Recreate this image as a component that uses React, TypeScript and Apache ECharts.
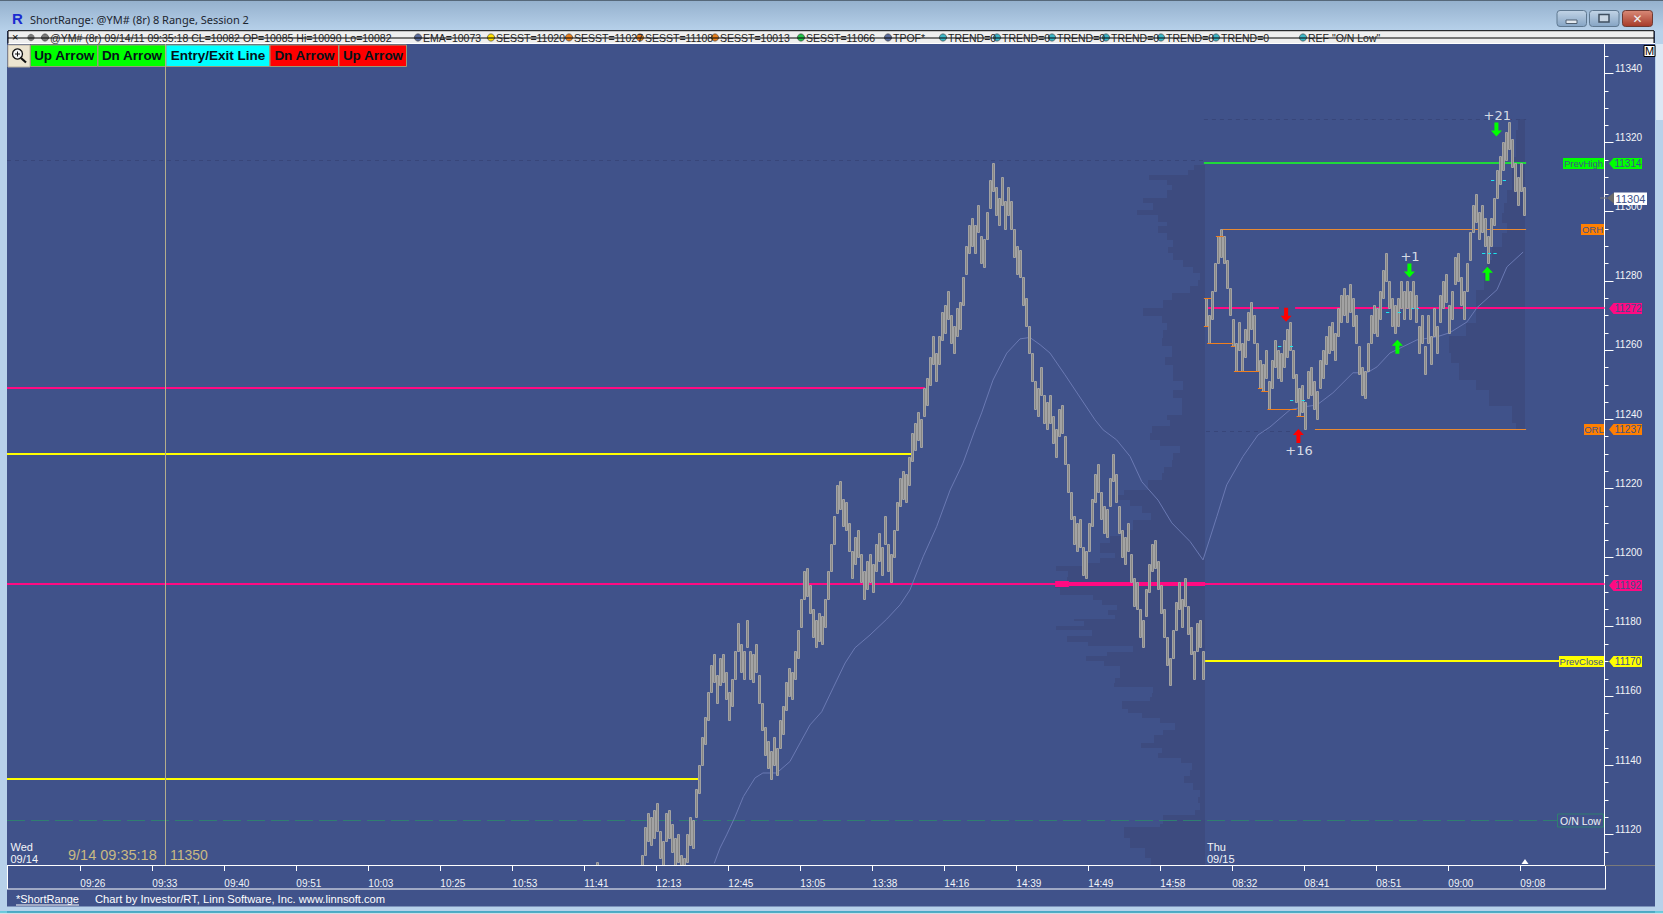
import React, { useEffect, useRef } from "react";
import * as echarts from "echarts";

// ---- time axis
const xTickLabels = ["09:26","09:33","09:40","09:51","10:03","10:25","10:53","11:41","12:13","12:45","13:05","13:38","14:16","14:39","14:49","14:58","08:32","08:41","08:51","09:00","09:08"];
const yMajor = [11120,11140,11160,11180,11200,11220,11240,11260,11280,11300,11320,11340];
const yMinor = [11115,11125,11130,11135,11145,11150,11155,11165,11170,11175,11185,11190,11195,11205,11210,11215,11225,11230,11235,11245,11250,11255,11265,11270,11275,11285,11290,11295,11305,11310,11315,11325,11330,11335,11345];

// ---- 8-range bars: each bar's high, bar index = firstBar + position
const isolatedBar = 196;
const isolatedHigh = 11112;
const firstBar = 211;
const barHighs = [
11114,11122,11126,11125,11127,11129,11121,11118,11126,11127,11123,11119,11120,11114,11113,11120,11125,11124,
11133,11140,11148,11154,11161,11169,11172,11166,11171,11172,11167,11161,11165,11173,11181,11175,11173,11182,11173,11172,11175,11166,11158,11151,11147,11144,11148,11145,11153,11157,11164,11168,11167,11173,11179,11188,11196,11197,11192,11185,11182,11184,11183,11188,11196,
11204,11212,11221,11222,11217,11216,11210,11202,11206,11208,11201,11196,11199,11201,11198,11204,11207,11203,11212,11204,11201,11208,11216,11223,11225,11224,11229,11236,
11239,11242,11240,11249,11252,11258,11264,11259,11264,11271,11273,11277,11270,11267,11272,11274,11281,11290,11296,11298,11296,11302,11293,11292,11300,11309,11314,11307,11304,11310,11303,11307,11303,11295,11290,11289,11281,11275,11267,11259,11251,11249,11255,11247,11245,11247,
11241,11237,11243,11244,11235,11227,11219,11212,11210,11211,11203,11202,11210,11217,11224,11227,11219,11215,11214,11223,11230,11224,11215,11208,11206,11210,11201,11194,11193,11185,11182,11191,11198,11204,11205,11199,11192,11185,11177,11171,11179,11187,11193,11188,11194,11186,11180,11173,11181,11182,11173,
11275,11270,11277,11285,11293,11295,11293,11286,11278,11269,11262,11268,11262,11266,11271,11274,11270,11262,11257,11256,11260,11251,11257,11263,11260,11259,11263,11266,11268,11260,11253,11249,11250,11245,11254,11255,11251,11248,11257,11260,11264,11267,11268,11265,11272,11276,11278,11276,11279,11275,11270,11261,11255,11254,11262,11270,11273,11272,11277,11283,11288,11280,11275,11273,11275,11280,11277,11280,11277,11280,11276,11267,11270,11261,11270,11264,11272,11267,11276,11280,11282,11273,11277,11287,11288,11281,11277,11285,11294,11302,11305,11300,11302,11298,11293,11298,11304,11312,11316,11320,11323,11326,11321,11314,11310,11314,11307
];
const barRange = 8;

// ---- EMA
const emaBars = [235.1,237,239.2,242,244.8,248.7,251.3,255.9,260.3,263.7,267,270.9,274.7,278.7,282,287,292.6,297,300.3,304.7,309.2,313.7,318,322,324.2,328,332.6,337,340.3,343.7,347,352,362,364.7,369.2,373.7,377.6,383,387.6,393.7,398,402.6,405.9,411.3,416.3,420.3,427,431.3,436,441.3,448,452.7,456,460.3,466,469.3,476,480.3,486,489.3,496,499.3,504.7];
const emaPrices = [11111.6,11116,11119.8,11125,11130.9,11136.3,11137.7,11137.7,11141,11146.4,11151.6,11155.4,11162.3,11169.5,11173.9,11177.6,11182.2,11186.3,11190.6,11200.2,11208.9,11219.5,11227.3,11236.9,11241.8,11251.3,11259.1,11263.2,11263.6,11261.5,11259.1,11252.8,11239.8,11236.9,11234,11229.2,11221.9,11216.6,11210,11204.6,11199.3,11211.8,11221,11229.2,11235.4,11237.7,11242.7,11243.5,11244.1,11247.6,11253.4,11253.4,11255.1,11259.1,11261.5,11262.9,11263.8,11265,11268.1,11272.2,11277.4,11284,11288.3];

// ---- volume profiles: upper price of each row, and width in bars
const profile1Anchor = 398.67;
const profile1Tops = [11313.5,11312,11310.6,11309.2,11307.7,11306.3,11303.9,11302.4,11300.5,11299,11297.1,11295.7,11293.8,11291.8,11289.9,11288,11286.1,11284.1,11282.2,11280.3,11278.4,11276.4,11274.5,11272.2,11269.7,11267.8,11265.8,11263.4,11261,11258.1,11255.7,11253.3,11250.9,11248.5,11246.1,11243.7,11241.3,11239.8,11237.9,11235.9,11234,11232.1,11230.2,11228.2,11226.3,11224.4,11222.5,11219.6,11218.1,11216.7,11214.8,11212.8,11210.9,11208,11206.1,11204.2,11201.3,11199.8,11198.4,11197.4,11196,11194.5,11193.1,11191.1,11189.2,11187.8,11186.3,11184.9,11183.4,11182.3,11181.5,11180.3,11179.1,11177.4,11175.7,11174.3,11172.8,11171.4,11170,11168.5,11166.6,11165.1,11163.7,11162.7,11160.8,11159.8,11158.4,11156.2,11155,11153.6,11152.1,11150.2,11148.8,11146.4,11144.9,11143.5,11142,11140.6,11138.6,11136.7,11134.8,11132.9,11130.9,11129,11127,11125.6,11123,11122,11119,11116,11113,11111];
const profile1Widths = [3.7,5.6,18.7,12.8,11.1,12.8,20.6,17.2,22.8,15.6,12.8,15.6,12.8,10.6,12.2,10.6,7.2,3.9,1.7,2.2,5,11.1,13.9,20.6,14.4,12.8,13.9,14.4,11.1,13.3,10.6,10.6,7.2,10.6,7.8,7.8,12.8,11.7,17.8,18.3,15,8.3,10.6,11.1,13.7,14.4,19.1,27,28.9,25,21.1,18,23.9,27.2,31.7,35,30,35,38.9,49.7,45.6,46.1,50,48.3,37.2,34.4,29.4,32.2,30,43.7,40.3,49.7,37.8,46.1,38.9,23.9,32.8,39.7,33.7,28.3,28.3,30,30.3,17.2,17.8,18.3,27.6,25.6,21.1,15,10,13.9,16.9,21.3,14.4,15.6,8.1,4.4,5,7,3.9,1.7,2.2,1.7,3.3,13.9,15,27,25,20,18,15];
const profile2Anchor = 505.33;
const profile2Tops = [11326.8,11323.6,11315.9,11310.2,11306.3,11302.4,11299.6,11296.7,11293.8,11289.9,11286.1,11282.2,11277.4,11273.5,11267.8,11263.9,11259.1,11256.2,11251.4,11248.5,11243.7,11238.9,11237.1];
const profile2Widths = [2.2,3.1,4.4,4.2,5.9,7,7.8,5.9,7.6,10.9,12.6,13.7,16.4,16.4,19.8,25.3,24.8,22,16.4,12,4.2,3.1,0];

// ---- levels: start bar, end bar, price, width, colour, dash
const axisLeft = -0.67;
const axisRight = 531.83;
const levelStarts = [axisLeft,axisLeft,axisLeft,axisLeft,348.7,353.3,399.3,428.7,398.7,398.3,404.3,435.3,398.3,axisLeft,399,axisLeft];
const levelEnds = [305.3,300.7,229.7,axisRight,353.3,398.7,423.3,axisRight,516.7,505.7,505.7,505.7,505.7,398.3,428,516];
const levelPrices = [11249,11230,11136,11192.2,11192.2,11192.2,11272,11272,11170,11314,11295,11237,11326.8,11315,11236.5,11124];
const levelWidths = [2,2,2,2,6,4,2,2,2,2,1,1,1,1,1,1];
const levelColors = ["#ff0a82","#ffff00","#ffff00","#ff0a82","#ff0a82","#ff0a82","#ff0a82","#ff0a82","#ffff00","#1fd83a","#e98a32","#e98a32","#38467a","#38467a","#38467a","#2f7f70"];
const levelDashes = [null,null,null,null,null,null,null,null,null,null,null,null,[4,4],[4,4],[4,4],[18,6]];

// ---- short orange marks and cyan dashes
const orangeStarts = [398.3,398.3,399.4,407.3,408.3,416.3,417.4,419.5,429.2,402.3];
const orangeEnds = [400.7,399.8,407.9,408.7,416.8,417.7,419.8,429.2,431.7,404.8];
const orangePrices = [11275,11266.9,11262,11261.1,11253.9,11249,11248.1,11242.9,11240.9,11293];
const cyanStarts = [423,427,427,430.9,459,462.9,467.5,469.2,491,493,494.8,494,497.9];
const cyanEnds = [424.1,428,428.1,432,460.1,464,468.3,470,492.1,494,495.9,495.1,499];
const cyanPrices = [11261.1,11261.1,11245.5,11245.5,11271,11271,11272.1,11272.1,11288,11288,11288,11309.2,11309.2];

// ---- arrows and their notes
const arrowBars = [425.7,429.8,495.8,466.8,462.8,492.8];
const arrowPrices = [11270.2,11235.1,11323.7,11283,11260.9,11282];
const arrowDown = [true,false,true,true,false,false];
const arrowColors = ["#ff0000","#ff0000","#00ff00","#00ff00","#00ff00","#00ff00"];
const noteBars = [496.1,467,430];
const notePrices = [11327.7,11287,11230.8];
const noteTexts = ["+21","+1","+16"];

// ---- right side labels
const tagValues = [11314,11272,11237,11192,11170];
const tagColors = ["#00ff00","#ff0a82","#ff7f00","#ff0a82","#ffff00"];
const nameTexts = ["PrevHigh","ORH","ORL","PrevClose"];
const nameValues = [11314,11295,11237,11170];
const nameColors = ["#00ff00","#ff7f00","#ff7f00","#ffff00"];
const nameLefts = [1563,1581,1584,1559];
const lastPrice = 11304;

const buttonTexts = ["Up Arrow","Dn Arrow","Entry/Exit Line","Dn Arrow","Up Arrow"];
const buttonColors = ["#00ff00","#00ff00","#00ffff","#ff0000","#ff0000"];
const buttonEdges = [30.5,98,166,270,339,407];

const legendTexts = ["@YM# (8r) 09/14/11 09:35:18 CL=10082 OP=10085 Hi=10090 Lo=10082","EMA=10073","SESST=11020","SESST=11027","SESST=11108","SESST=10013","SESST=11066","TPOF*","TREND=0","TREND=0","TREND=0","TREND=0","TREND=0","TREND=0","REF \"O/N Low\""];
const legendLefts = [50,423,496,574,645,720,806,893,948,1002,1057,1111,1166,1221,1308];
const legendDots = ["#7a7a7a","#5b6d9e","#ffe000","#e9801f","#e9801f","#e9801f","#22c34a","#5b6d9e","#3cb6c6","#3cb6c6","#3cb6c6","#3cb6c6","#3cb6c6","#3cb6c6","#3cb6c6"];

const BG = "#40528a";
const DARK = "#3d4b7f";
const SANS = "'Liberation Sans',sans-serif";

const upArrow = "path://M5.5 0L11 6L7.5 6L7.5 14L3.5 14L3.5 6L0 6Z";

function segmentSeries(name: string, starts: number[], ends: number[], prices: number[], widthOf: (i: number) => number, colorOf: (i: number) => string, dashOf: (i: number) => any, z: number) {
  return {
    type: "custom", name, z, silent: true, clip: true,
    encode: { x: [0, 1], y: 2 },
    data: starts.map((s, i) => [s, ends[i], prices[i]]),
    renderItem: (params: any, api: any) => {
      const a = api.coord([api.value(0), api.value(2)]);
      const b = api.coord([api.value(1), api.value(2)]);
      const w = widthOf(params.dataIndex);
      const y = Math.round(a[1]) + (w % 2 === 1 ? 0.5 : 0);
      return { type: "line", silent: true,
        shape: { x1: a[0], y1: y, x2: b[0], y2: y },
        style: { stroke: colorOf(params.dataIndex), lineWidth: w, lineDash: dashOf(params.dataIndex) || undefined } };
    },
  };
}

function profileSeries(name: string, anchor: number, tops: number[], widths: number[]) {
  return {
    type: "custom", name, z: 1, silent: true, clip: true,
    encode: { x: [0, 1], y: [2, 3] },
    data: tops.slice(0, -1).map((t, i) => [anchor - widths[i], anchor, t, tops[i + 1]]),
    renderItem: (_: any, api: any) => {
      const a = api.coord([api.value(0), api.value(2)]);
      const b = api.coord([api.value(1), api.value(3)]);
      const x = Math.round(a[0]), y = Math.round(a[1]);
      return { type: "rect", silent: true,
        shape: { x, y, width: Math.round(b[0]) - x, height: Math.max(1, Math.round(b[1]) - y) },
        style: { fill: DARK } };
    },
  };
}

function txt(x: number, y: number, text: string, font: string, fill: string, extra: any = {}) {
  return { type: "text", x, y, z: 20, silent: true,
    style: { text, font, fill, textAlign: extra.align || "left", textVerticalAlign: "middle", align: extra.align || "left", verticalAlign: "middle" } };
}
function box(x: number, y: number, width: number, height: number, fill: any, extra: any = {}) {
  return { type: "rect", z: extra.z ?? 15, silent: true, shape: { x, y, width, height, r: extra.r || 0 }, style: { fill, stroke: extra.stroke, lineWidth: extra.lw ?? (extra.stroke ? 1 : 0) } };
}
function ln(x1: number, y1: number, x2: number, y2: number, stroke: string, lw = 1) {
  return { type: "line", z: 16, silent: true, shape: { x1, y1, x2, y2 }, style: { stroke, lineWidth: lw } };
}
const vgrad = (a: string, b: string) => new echarts.graphic.LinearGradient(0, 0, 0, 1, [{ offset: 0, color: a }, { offset: 1, color: b }]);

function chrome(): any[] {
  const e: any[] = [];
  // frame
  e.push(box(0, 0, 1663, 31, vgrad("#94b0cd", "#b7d1ea")));
  e.push(ln(0, 0.5, 1663, 0.5, "#56687a"));
  e.push(box(0, 31, 7, 883, "#b7d1ea"));
  e.push(box(1655, 31, 8, 883, "#b7d1ea"));
  e.push(box(1656, 44, 7, 76, "#dbe8f5"));
  e.push(box(0, 906.5, 1663, 5, "#b7d1ea"));
  e.push(ln(0, 912, 1663, 912, "#18c0d0", 1));
  e.push(box(0, 912.5, 1663, 2, "#d5dde6"));
  // title
  e.push(txt(12, 18, "R", "bold 15px " + SANS, "#1a2bd0"));
  e.push(txt(30, 19, "ShortRange: @YM# (8r) 8 Range, Session 2", "11px 'Noto Sans',sans-serif", "#1c2530"));
  // window buttons
  e.push(box(1557, 10.5, 29.5, 16, vgrad("#c2d4e6", "#85a4c4"), { stroke: "#5f7890", r: 3 }));
  e.push(box(1566, 20, 11, 3.5, "#e3e9ef", { stroke: "#4f5f70" }));
  e.push(box(1589.5, 10.5, 29.5, 16, vgrad("#c2d4e6", "#85a4c4"), { stroke: "#5f7890", r: 3 }));
  e.push(box(1599, 14.5, 10, 7.5, "#c9d6e3", { stroke: "#3f4f60", lw: 1.5 }));
  e.push(box(1622.5, 10.5, 30, 16, vgrad("#d98a78", "#a63a28"), { stroke: "#6d3a33", r: 3 }));
  e.push(txt(1637.5, 18.5, "✕", "bold 12px 'DejaVu Sans',sans-serif", "#eef0f2", { align: "center" }));
  // legend row
  e.push(box(8, 30.5, 1646, 13, "#efefef"));
  e.push(ln(8, 30.7, 1654, 30.7, "#000"));
  e.push(ln(8, 43.5, 1655, 43.5, "#ffffff"));
  e.push(ln(8, 43.5, 8, 31, "#000"));
  e.push(ln(1654, 31, 1654, 43, "#000"));
  legendTexts.forEach((t, i) => {
    e.push(txt(legendLefts[i], 38, t, "10.5px " + SANS, "#222"));
    e.push({ type: "circle", z: 16, silent: true, shape: { cx: legendLefts[i] - 5, cy: 37.5, r: 3.6 }, style: { fill: legendDots[i], stroke: "#333", lineWidth: 0.6 } });
  });
  e.push({ type: "circle", z: 16, silent: true, shape: { cx: 31, cy: 37.5, r: 3.6 }, style: { fill: "#7a7a7a" } });
  e.push(ln(8, 38, 1654, 38, "#000"));
  e.push(txt(12, 37, "×", "11px " + SANS, "#000"));
  // tool buttons
  e.push(box(8, 45, 22, 22, "#ece4d0", { stroke: "#b9b29f" }));
  e.push({ type: "circle", z: 16, silent: true, shape: { cx: 17.5, cy: 54, r: 5 }, style: { fill: "#f6f6f6", stroke: "#111", lineWidth: 1.3 } });
  e.push(ln(21, 58, 26, 62.5, "#111", 2.2));
  e.push(ln(15, 54, 20, 54, "#111", 1));
  e.push(ln(17.5, 51.5, 17.5, 56.5, "#111", 1));
  buttonTexts.forEach((t, i) => {
    const x = buttonEdges[i], w = buttonEdges[i + 1] - x;
    e.push(box(x, 45, w - 0.5, 21.5, buttonColors[i], { stroke: "#9a9a78" }));
    e.push(txt(x + w / 2, 55.5, t, "bold 13.5px " + SANS, "#04131a", { align: "center" }));
  });
  // M button
  e.push(box(1644, 45.5, 11, 11, "#ffffff", { stroke: "#000" }));
  e.push(txt(1649.5, 51, "M", "11px " + SANS, "#000", { align: "center" }));
  // crosshair
  e.push(ln(165.5, 44, 165.5, 865, "#b3ad8c"));
  // plot texts
  e.push(txt(10.5, 847, "Wed", "11px " + SANS, "#f2f4f8"));
  e.push(txt(10.5, 858.5, "09/14", "11px " + SANS, "#f2f4f8"));
  e.push(txt(1207, 847, "Thu", "11px " + SANS, "#f2f4f8"));
  e.push(txt(1207, 858.5, "09/15", "11px " + SANS, "#f2f4f8"));
  e.push(txt(68, 855, "9/14 09:35:18", "14.5px " + SANS, "#c9b982"));
  e.push(txt(170, 855, "11350", "14px " + SANS, "#c9b982"));
  // bottom boxes
  e.push(ln(7.5, 865, 7.5, 889, "#ffffff"));
  e.push(ln(1605.5, 865, 1605.5, 889, "#ffffff"));
  e.push(ln(7, 889, 1606, 889, "#ffffff"));
  e.push(ln(7, 865.5, 1605, 865.5, "#ffffff"));
  e.push(ln(1605, 865.5, 1655, 865.5, "#7a7a7a"));
  e.push({ type: "polygon", z: 16, silent: true, shape: { points: [[1525, 859], [1521.5, 864], [1528.5, 864]] }, style: { fill: "#ffffff" } });
  e.push(txt(16, 899, "*ShortRange", "11px " + SANS, "#ffffff"));
  e.push(ln(16, 905, 79, 905, "#ffffff"));
  e.push(txt(95, 899, "Chart by Investor/RT, Linn Software, Inc. www.linnsoft.com", "11.2px " + SANS, "#ffffff"));
  // current price marker
  e.push(ln(1600, 198, 1607, 198, "#777777"));
  e.push({ type: "polygon", z: 16, silent: true, shape: { points: [[1607, 198], [1614, 192.5], [1614, 203.5]] }, style: { fill: "#6a6a6a" } });
  e.push(box(1614, 192.5, 33, 12.5, "#ffffff"));
  e.push(txt(1630.5, 199, String(lastPrice), "11px " + SANS, BG, { align: "center" }));
  return e;
}

export default function App() {
  const ref = useRef<HTMLDivElement>(null);
  useEffect(() => {
    document.body.style.margin = "0";
    const chart = echarts.init(ref.current!, null, { renderer: "svg" });
    const xTickBars = xTickLabels.map((_, k) => 23.77 + 24 * k);
    const barData: number[][] = [[isolatedBar, isolatedHigh - barRange, isolatedHigh]];
    barHighs.forEach((h, i) => {
      barData.push([firstBar + i, h - barRange, h]);
    });
    const option: any = {
      animation: false,
      backgroundColor: BG,
      grid: { left: 7, right: 58.5, top: 44.5, height: 820.5, containLabel: false },
      xAxis: {
        type: "value", min: axisLeft, max: axisRight, splitLine: { show: false },
        axisLine: { show: true, lineStyle: { color: "#ffffff" } },
        axisTick: { show: true, length: 6, customValues: xTickBars, lineStyle: { color: "#ffffff" } },
        axisLabel: {
          show: true, customValues: xTickBars, color: "#f2f4f8", align: "left", margin: 13,
          fontFamily: SANS, fontSize: 10,
          formatter: (v: number) => xTickLabels[Math.round((v - 23.77) / 24)] ?? "",
        },
      },
      yAxis: {
        type: "value", position: "right", min: 11111.1, max: 11348.3, splitLine: { show: false },
        axisLine: { show: true, onZero: false, lineStyle: { color: "#ffffff" } },
        axisTick: { show: true, length: 9, customValues: yMajor, lineStyle: { color: "#ffffff" } },
        axisLabel: { show: true, customValues: yMajor, color: "#f2f4f8", margin: 10.5, fontFamily: SANS, fontSize: 10, verticalAlign: "bottom", formatter: (v: number) => String(v) },
      },
      graphic: { elements: chrome() },
      series: [
        profileSeries("Profile 09/14", profile1Anchor, profile1Tops, profile1Widths),
        profileSeries("Profile 09/15", profile2Anchor, profile2Tops, profile2Widths),
        segmentSeries("Levels", levelStarts, levelEnds, levelPrices, (i) => levelWidths[i], (i) => levelColors[i], (i) => levelDashes[i], 2),
        {
          type: "line", name: "EMA", z: 3, silent: true, showSymbol: false, symbol: "none", clip: true,
          data: emaBars.map((b, i) => [b, emaPrices[i]]),
          lineStyle: { color: "#6a79b3", width: 1 },
        },
        {
          type: "custom", name: "@YM#", z: 4, silent: true, clip: true,
          encode: { x: 0, y: [1, 2] },
          data: barData,
          renderItem: (_: any, api: any) => {
            const hi = api.coord([api.value(0), api.value(2)]);
            const lo = api.coord([api.value(0), api.value(1)]);
            const x = Math.floor(hi[0]) - 0.5;
            const y = Math.round(hi[1]) + 0.5;
            return { type: "rect", silent: true,
              shape: { x, y, width: 2, height: Math.round(lo[1]) - Math.round(hi[1]) },
              style: { fill: "#868686", stroke: "#a3a3a3", lineWidth: 1 } };
          },
        },
        segmentSeries("Orange marks", orangeStarts, orangeEnds, orangePrices, () => 1, () => "#f07f1e", () => null, 5),
        segmentSeries("Cyan marks", cyanStarts, cyanEnds, cyanPrices, () => 1, () => "#19e6ee", () => null, 5),
        {
          type: "scatter", name: "Arrows", z: 6, silent: true,
          data: arrowBars.map((b, i) => ({
            value: [b, arrowPrices[i]], symbol: upArrow, symbolSize: [11, 14],
            symbolRotate: arrowDown[i] ? 180 : 0, itemStyle: { color: arrowColors[i], opacity: 1 },
          })),
        },
        {
          type: "scatter", name: "Notes", z: 6, silent: true, symbolSize: 0,
          data: noteBars.map((b, i) => ({ value: [b, notePrices[i]] })),
          label: { show: true, position: "inside", color: "#ffffff", fontFamily: "'DejaVu Sans',sans-serif", fontSize: 13,
            formatter: (p: any) => noteTexts[p.dataIndex] },
        },
        {
          type: "custom", name: "Minor ticks", z: 8, silent: true, clip: false,
          encode: { x: 0, y: 1 },
          data: yMinor.map((v) => [axisRight, v]),
          renderItem: (_: any, api: any) => {
            const p = api.coord([api.value(0), api.value(1)]);
            const y = Math.round(p[1]) + 0.5;
            return { type: "line", silent: true, shape: { x1: p[0], y1: y, x2: p[0] + 4, y2: y }, style: { stroke: "#ffffff", lineWidth: 1 } };
          },
        },
        {
          type: "custom", name: "Price tags", z: 8, silent: true, clip: false,
          encode: { x: 0, y: 1 },
          data: tagValues.map((v) => [axisRight, v]),
          renderItem: (params: any, api: any) => {
            const y = Math.round(api.coord([api.value(0), api.value(1)])[1]) + 0.5;
            return { type: "group", children: [
              { type: "polygon", shape: { points: [[1609, y], [1613.5, y - 5.5], [1642, y - 5.5], [1642, y + 5.5], [1613.5, y + 5.5]] }, style: { fill: tagColors[params.dataIndex] } },
              { type: "text", style: { x: 1628, y, text: String(tagValues[params.dataIndex]), fill: BG, font: "10px " + SANS, textAlign: "center", textVerticalAlign: "middle", align: "center", verticalAlign: "middle" } },
            ] };
          },
        },
        {
          type: "custom", name: "Level names", z: 8, silent: true, clip: false,
          encode: { x: 0, y: 1 },
          data: nameValues.map((v) => [axisRight, v]),
          renderItem: (params: any, api: any) => {
            const y = Math.round(api.coord([api.value(0), api.value(1)])[1]) + 0.5;
            const l = nameLefts[params.dataIndex];
            return { type: "group", children: [
              { type: "rect", shape: { x: l, y: y - 5.5, width: 1604 - l, height: 11 }, style: { fill: nameColors[params.dataIndex] } },
              { type: "text", style: { x: (l + 1604) / 2, y, text: nameTexts[params.dataIndex], fill: BG, font: "9.5px " + SANS, textAlign: "center", textVerticalAlign: "middle", align: "center", verticalAlign: "middle" } },
            ] };
          },
        },
        {
          type: "custom", name: "O/N Low", z: 8, silent: true, clip: false,
          encode: { x: 0, y: 1 },
          data: [[axisRight, 11124]],
          renderItem: (_: any, api: any) => {
            const y = Math.round(api.coord([api.value(0), api.value(1)])[1]) + 0.5;
            return { type: "group", children: [
              { type: "rect", shape: { x: 1557.5, y: y - 6.5, width: 46, height: 13 }, style: { fill: BG, stroke: "#2f7f70", lineWidth: 1 } },
              { type: "text", style: { x: 1580.5, y, text: "O/N Low", fill: "#eef2f6", font: "10.5px " + SANS, textAlign: "center", textVerticalAlign: "middle", align: "center", verticalAlign: "middle" } },
            ] };
          },
        },
      ],
    };
    chart.setOption(option);
    return () => chart.dispose();
  }, []);
  return <div ref={ref} style={{ position: "fixed", left: 0, top: 0, width: 1663, height: 914 }} />;
}
